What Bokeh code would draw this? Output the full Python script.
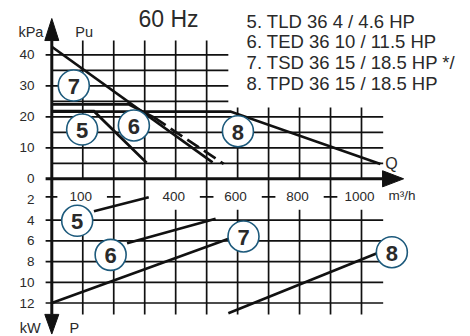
from bokeh.plotting import figure
from bokeh.models import Range1d
from bokeh.embed import file_html
from bokeh.resources import INLINE
from bokeh.core.properties import value

# ---------------- data ----------------
# Pressure curves: Q (m3/h) -> Pu (kPa)
q5 = [0, 136, 306];   pu5 = [21.8, 21.8, 5.2]
q6 = [0, 248, 330];   pu6 = [24.0, 24.0, 19.8]
q6d = [330, 555];     pu6d = [19.8, 4.8]
q7 = [0, 519];        pu7 = [42.6, 5.3]
q8 = [0, 577, 1061];  pu8 = [21.7, 21.7, 4.8]
# Power curves: Q (m3/h) -> P (kW)
pq5 = [136, 313];     pw5 = [3.13, 1.78]
pq6 = [243, 529];     pw6 = [6.22, 3.86]
pq7 = [0, 600];       pw7 = [12.0, 5.47]
pq8 = [570, 1050];    pw8 = [13.0, 7.2]

# curve label markers
top_ids = ["7", "5", "6", "8"]
top_q = [71, 98, 265, 601]
top_pu = [30.1, 15.9, 17.2, 15.35]
bot_ids = ["5", "6", "7", "8"]
bot_q = [82, 190, 619, 1098]
bot_pw = [4.06, 7.35, 5.57, 7.09]

# ticks / grid
kpa_ticks = [0, 10, 20, 30, 40]
kpa_grid_long = [5, 10, 15, 20]
kpa_grid_short = [25, 30, 35, 40]
kw_ticks = [2, 4, 6, 8, 10, 12]
kw_grid = [4, 6, 8, 10, 12]
q_grid_tall = [100, 200, 300, 400, 500]
q_grid_low = [600, 700, 800, 900, 1000]
q_labels = [100, 400, 600, 800, 1000]
q_plain = [200, 300, 500, 700, 900]
q_dash = [200, 500, 700, 900]

legend_lines = ["5. TLD 36  4 / 4.6 HP",
                "6. TED 36  10 / 11.5 HP",
                "7. TSD 36  15 / 18.5 HP */",
                "8. TPD 36  15 / 18.5 HP"]
legend_pu = [50.7, 44.3, 37.5, 30.9]

# ---------------- layout ----------------
W, H = 470, 336
X0, SX = 51.3, 0.3097           # canvas px of Q=0, px per m3/h
Y0, SP, SW = 178.3, 3.1, 10.35  # canvas px of 0, px per kPa, px per kW

xr = Range1d(-X0 / SX, (W - X0) / SX)
yr = Range1d((Y0 - H) / SP, Y0 / SP)
p = figure(width=W, height=H, x_range=xr, y_range=yr,
           x_axis_type=None, y_axis_type=None, toolbar_location=None,
           output_backend="svg", min_border=0, outline_line_color=None)
p.extra_y_ranges = {"kw": Range1d((H - Y0) / SW, -Y0 / SW)}
p.grid.visible = False
p.background_fill_color = "white"
p.border_fill_color = "white"

INK = "#111111"
TXT = "#2a2a2a"
FONT = value("Liberation Sans")
GW = 1.7
CW = 2.7

Q_END = 1070
PU_TOP = 44.6
PU_LOW = 23.0
KW_BOT = 13.1
TICK = -20

# top grid
p.segment(x0=[0] * 4, x1=[Q_END] * 4, y0=kpa_grid_long, y1=kpa_grid_long, line_color=INK, line_width=GW)
p.segment(x0=[0] * 4, x1=[570] * 4, y0=kpa_grid_short, y1=kpa_grid_short, line_color=INK, line_width=GW)
p.segment(x0=[TICK] * 4, x1=[0] * 4, y0=kpa_ticks[1:], y1=kpa_ticks[1:], line_color=INK, line_width=GW)
p.segment(x0=q_grid_tall, x1=q_grid_tall, y0=[0] * 5, y1=[PU_TOP] * 5, line_color=INK, line_width=GW)
p.segment(x0=q_grid_low, x1=q_grid_low, y0=[0] * 5, y1=[PU_LOW] * 5, line_color=INK, line_width=GW)

# bottom grid
p.segment(x0=[TICK] * 5, x1=[Q_END] * 5, y0=kw_grid, y1=kw_grid, line_color=INK, line_width=GW, y_range_name="kw")
p.segment(x0=q_plain, x1=q_plain, y0=[0] * 5, y1=[KW_BOT] * 5, line_color=INK, line_width=GW, y_range_name="kw")
p.segment(x0=q_labels, x1=q_labels, y0=[3.0] * 5, y1=[KW_BOT] * 5, line_color=INK, line_width=GW, y_range_name="kw")
ROW = 1.75
p.segment(x0=[q - 22 for q in q_dash] + [TICK], x1=[q + 22 for q in q_dash] + [18],
          y0=[ROW] * 5, y1=[ROW] * 5, line_color=INK, line_width=GW, y_range_name="kw")

# axes
p.segment(x0=[0], x1=[0], y0=[0], y1=[PU_TOP], line_color=INK, line_width=3)
p.segment(x0=[0], x1=[0], y0=[0], y1=[KW_BOT], line_color=INK, line_width=3, y_range_name="kw")
p.segment(x0=[TICK], x1=[1068], y0=[0], y1=[0], line_color=INK, line_width=3)
hw = 7 / SX
p.patch([-hw, hw, 0], [PU_TOP, PU_TOP, 51.7], color=INK)
p.patch([-hw, hw, 0], [KW_BOT, KW_BOT, 15.0], color=INK, y_range_name="kw")
p.patch([1068, 1068, 1136], [-2.6, 2.6, 0], color=INK)

# pressure curves
for xs, ys in [(q5, pu5), (q6, pu6), (q7, pu7), (q8, pu8)]:
    p.line(xs, ys, line_color=INK, line_width=CW, line_join="miter")
p.line(q6d, pu6d, line_color=INK, line_width=CW, line_dash="14 6")

# power curves
for xs, ys in [(pq5, pw5), (pq6, pw6), (pq7, pw7), (pq8, pw8)]:
    p.line(xs, ys, line_color=INK, line_width=CW, y_range_name="kw")

# tick labels
p.text(x=[-56] * 5, y=kpa_ticks, text=[str(v) for v in kpa_ticks], text_font=FONT,
       text_font_size="13.5px", text_align="right", text_baseline="middle", text_color=TXT)
p.text(x=[-56] * 6, y=kw_ticks, text=[str(v) for v in kw_ticks], text_font=FONT,
       text_font_size="13.5px", text_align="right", text_baseline="middle", text_color=TXT,
       y_range_name="kw")
p.text(x=q_labels, y=[ROW] * 5, text=[str(v) for v in q_labels], text_font=FONT,
       text_font_size="13.5px", text_align="center", text_baseline="middle", text_color=TXT,
       x_offset=-2, y_range_name="kw")

# axis names
p.text(x=[1087], y=[1.6], text=["m³/h"], text_font=FONT, text_font_size="13.5px",
       text_align="left", text_baseline="middle", text_color=TXT, y_range_name="kw")
p.text(x=[1077], y=[4.9], text=["Q"], text_font=FONT, text_font_size="16px",
       text_align="left", text_baseline="middle", text_color=TXT)
p.text(x=[-27], y=[47.2], text=["kPa"], text_font=FONT, text_font_size="14.5px",
       text_align="right", text_baseline="middle", text_color=TXT)
p.text(x=[76], y=[47.2], text=["Pu"], text_font=FONT, text_font_size="14.5px",
       text_align="left", text_baseline="middle", text_color=TXT)
p.text(x=[-36], y=[14.4], text=["kW"], text_font=FONT, text_font_size="14.5px",
       text_align="right", text_baseline="middle", text_color=TXT, y_range_name="kw")
p.text(x=[57], y=[14.4], text=["P"], text_font=FONT, text_font_size="14.5px",
       text_align="left", text_baseline="middle", text_color=TXT, y_range_name="kw")

# title & legend
p.text(x=[280], y=[51.7], text=["60 Hz"], text_font=FONT, text_font_size="23px",
       text_align="left", text_baseline="middle", text_color=TXT)
p.text(x=[629] * 4, y=legend_pu, text=legend_lines, text_font=FONT, text_font_size="18.5px",
       text_align="left", text_baseline="middle", text_color=TXT)

# curve id markers
CIRC = "#1d5a7c"
p.scatter(top_q, top_pu, marker="circle", size=31, fill_color="white", line_color=CIRC, line_width=1.6)
p.scatter(bot_q, bot_pw, marker="circle", size=31, fill_color="white", line_color=CIRC, line_width=1.6,
          y_range_name="kw")
p.text(x=top_q, y=top_pu, text=top_ids, text_font=FONT, text_font_size="22px", text_font_style="bold",
       text_align="center", text_baseline="middle", text_color=TXT, y_offset=1)
p.text(x=bot_q, y=bot_pw, text=bot_ids, text_font=FONT, text_font_size="22px", text_font_style="bold",
       text_align="center", text_baseline="middle", text_color=TXT, y_offset=1, y_range_name="kw")

open("out.html", "w").write(file_html(p, INLINE))
